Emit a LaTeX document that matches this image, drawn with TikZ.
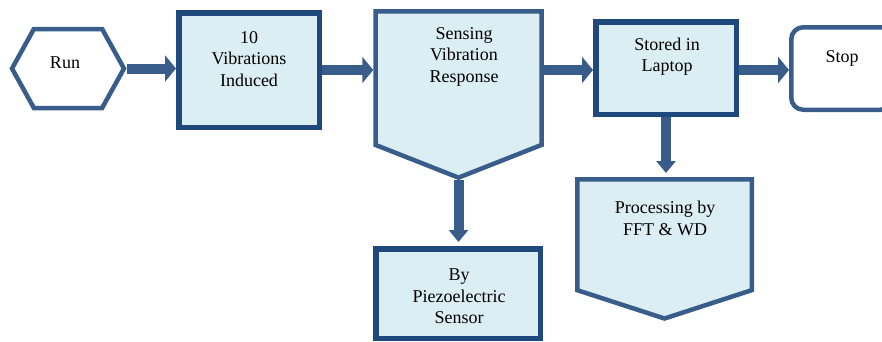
\documentclass[tikz,border=0pt]{standalone}
\usepackage{fontspec}
\setmainfont{Liberation Serif}
\usetikzlibrary{shapes.symbols,arrows.meta,positioning}
\definecolor{darkrim}{HTML}{1F497D}
\definecolor{midrim}{HTML}{385D8A}
\definecolor{boxfill}{HTML}{DBEEF4}

\begin{document}
\begin{tikzpicture}[x=1pt,y=-1pt]
    \tikzset{txt/.style = {align=center, font=\fontsize{18}{21.5}\selectfont, inner sep=0pt}}
    \tikzset{darkbox/.style = {rectangle, draw=darkrim, line width=5.5pt, fill=boxfill}}
    \tikzset{sigbox/.style = {signal, signal to=south, signal from=nowhere, draw=midrim, line width=4.5pt, fill=boxfill}}
    \tikzset{flowh/.style = {draw=midrim, line width=10pt, -{Triangle[length=11pt,width=26pt]}}}
    \tikzset{flowv/.style = {draw=midrim, line width=10pt, -{Triangle[length=12pt,width=19pt]}, shorten >=4pt}}
    \clip (0,0) rectangle (882,341);
    % shapes
    \node[signal, signal to=east and west, signal pointer angle=122, draw=midrim, line width=4.5pt, fill=white,
          minimum width=112pt, minimum height=79pt] (run) at (68,68.5) {};
    \node[darkbox, minimum width=140.5pt, minimum height=114.5pt] (induce) at (249,70) {};
    \node[sigbox, signal pointer angle=137, minimum width=166pt, minimum height=135pt, anchor=north] (sense) at (458.5,9) {};
    \node[darkbox, minimum width=140.5pt, minimum height=92.5pt] (stored) at (666,68) {};
    \node[rectangle, rounded corners=12pt, draw=midrim, line width=4.5pt, fill=white,
          minimum width=101.5pt, minimum height=82.5pt] (stop) at (842,68.5) {};
    \node[sigbox, signal pointer angle=144, minimum width=174.5pt, minimum height=112pt, anchor=north] (proc) at (664.5,177) {};
    \node[darkbox, minimum width=164.5pt, minimum height=89.5pt] (piezo) at (458,293.5) {};
    % texts
    \node[txt] (runtxt) at (65,63) {Run};
    \node[txt] (inducetxt) at (249,59) {10\\Vibrations\\Induced};
    \node[txt] (sensetxt) at (464,56.5) {Sensing\\Vibration\\Response};
    \node[txt] (storedtxt) at (667,56.5) {Stored in\\Laptop};
    \node[txt] (stoptxt) at (842,58.5) {Stop};
    \node[txt] (proctxt) at (665,218.5) {Processing by\\FFT \& WD};
    \node[txt] (piezotxt) at (459,296.5) {By\\Piezoelectric\\Sensor};
    % arrows
    \draw[flowh] (run.east) -- (run.east -| induce.west);
    \draw[flowh] (induce.east) -- (induce.east -| sense.west);
    \draw[flowh] (sense.east |- induce.east) -- (stored.west |- induce.east);
    \draw[flowh] (stored.east |- induce.east) -- (stop.west |- induce.east);
    \draw[flowv] (stored.south) -- (stored.south |- proc.north);
    \draw[flowv] (sense.south) -- (sense.south |- piezo.north);
\end{tikzpicture}
\end{document}
